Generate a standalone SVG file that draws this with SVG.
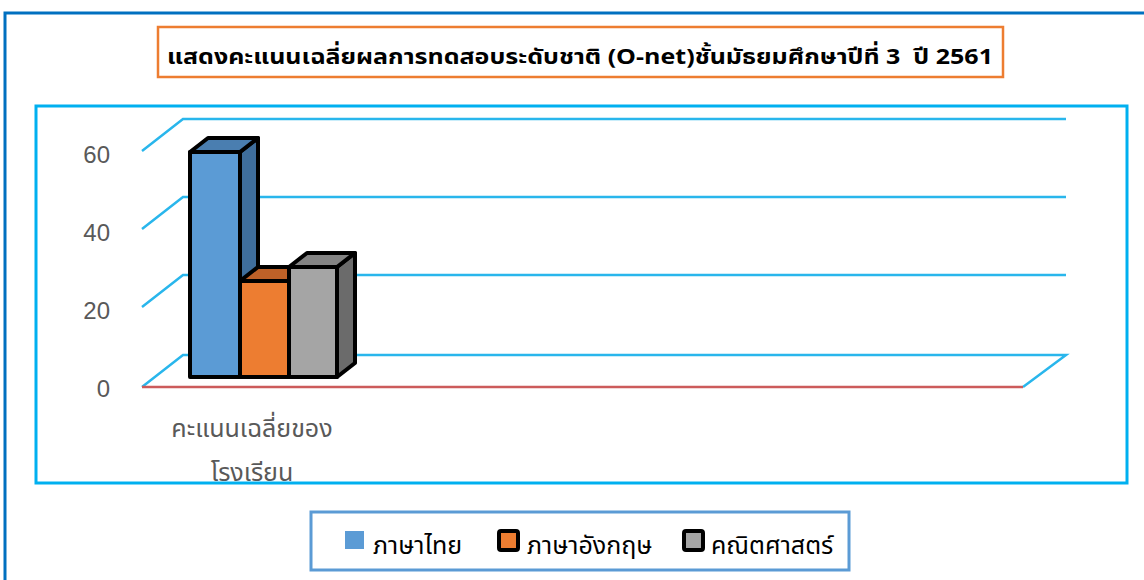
<svg xmlns="http://www.w3.org/2000/svg" width="1144" height="580" viewBox="0 0 1144 580">
<style>
.thai{font-family:"Noto Sans Thai","Noto Sans","DejaVu Sans",sans-serif}
.grid{stroke:#29B6EC;stroke-width:2.5;fill:none}
.bar{stroke:#000;stroke-width:4;stroke-linejoin:round}
.axis{font-family:"Liberation Sans",Arial,sans-serif;font-size:24px;fill:#595959;text-anchor:end}
.leg{font-size:25px;fill:#000}
</style>
<rect x="0" y="0" width="1144" height="580" fill="#fff"/>
<g id="frame">
<path d="M5,590 V13 H1150" fill="none" stroke="#0070C0" stroke-width="3"/>
</g>
<g id="title">
<rect x="158" y="27" width="845" height="50" fill="#fff" stroke="#ED7D31" stroke-width="2.5"/>
<text class="thai" x="580" y="64" font-size="22" font-weight="bold" text-anchor="middle" textLength="826" lengthAdjust="spacingAndGlyphs">แสดงคะแนนเฉลี่ยผลการทดสอบระดับชาติ (O-net)ชั้นมัธยมศึกษาปีที่ 3&#160; ปี 2561</text>
</g>
<g id="chart">
<rect x="36" y="106" width="1091" height="377" fill="#fff" stroke="#00B0F0" stroke-width="3"/>
<g id="gridlines">
<path class="grid" d="M142,151 L183,119 H1066 M142,229 L183,197 H1066 M142,307 L183,275 H1066 M142,387 L183,355 H1066 L1023,387"/>
<line x1="142" y1="387" x2="1023" y2="387" stroke="#CC5B5B" stroke-width="2.5"/>
</g>
<g id="axis-labels">
<text class="axis" x="110" y="163">60</text>
<text class="axis" x="110" y="241">40</text>
<text class="axis" x="110" y="319">20</text>
<text class="axis" x="110" y="397">0</text>
</g>
<g id="bar-thai">
<polygon class="bar" points="240,152 258,138 258,363 240,377" fill="#3F6E9C"/>
<polygon class="bar" points="190,152 208,138 258,138 240,152" fill="#4A7EB0"/>
<rect class="bar" x="190" y="152" width="50" height="225" fill="#5B9BD5"/>
</g>
<g id="bar-english">
<polygon class="bar" points="240,281 258,267 307,267 289,281" fill="#BE6128"/>
<rect class="bar" x="240" y="281" width="49" height="96" fill="#ED7D31"/>
</g>
<g id="bar-math">
<polygon class="bar" points="337,267 355,253 355,363 337,377" fill="#6B6B6B"/>
<polygon class="bar" points="289,267 307,253 355,253 337,267" fill="#848484"/>
<rect class="bar" x="289" y="267" width="48" height="110" fill="#A5A5A5"/>
</g>
<g id="category-label">
<clipPath id="clipc"><rect x="36" y="106" width="1091" height="376"/></clipPath>
<g clip-path="url(#clipc)">
<text class="thai" x="252" y="437" font-size="25" fill="#595959" text-anchor="middle">คะแนนเฉลี่ยของ</text>
<text class="thai" x="252" y="481" font-size="25" fill="#595959" text-anchor="middle">โรงเรียน</text>
</g>
</g>
</g>
<g id="legend">
<rect x="311" y="512" width="538" height="58" fill="#fff" stroke="#5B9BD5" stroke-width="3"/>
<rect x="345" y="531" width="19" height="18" fill="#5B9BD5"/>
<text class="thai leg" x="373" y="554">ภาษาไทย</text>
<rect x="499" y="531" width="19" height="19" fill="#ED7D31" stroke="#000" stroke-width="4" rx="2"/>
<text class="thai leg" x="527" y="554">ภาษาอังกฤษ</text>
<rect x="684" y="531" width="19" height="19" fill="#A5A5A5" stroke="#000" stroke-width="4" rx="2"/>
<text class="thai leg" x="711" y="554">คณิตศาสตร์</text>
</g>
</svg>
